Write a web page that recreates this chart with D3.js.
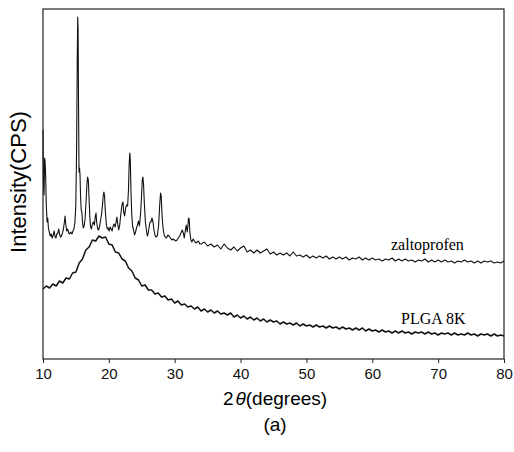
<!DOCTYPE html>
<html>
<head>
<meta charset="utf-8">
<script src="https://cdn.jsdelivr.net/npm/d3@7"></script>
<style>
  body { margin: 0; background: #fff; }
  .axis text { font-family: "Liberation Sans", Arial, sans-serif; font-size: 15px; fill: #111; }
  .axis line { stroke: #222; }
</style>
</head>
<body>
<div id="xrd"></div>
<script>
// tick labels for 2-theta
var xTicks = [10, 20, 30, 40, 50, 60, 70, 80];

// zaltoprofen, peak region [2theta, counts]
var zaltoPeaks = [
  [10.00, 2290], [10.08, 1740], [10.16, 1640], [10.25, 2010], [10.32, 1970], [10.40, 1840],
  [10.50, 1540], [10.62, 1370], [10.72, 1410], [10.82, 1310], [10.95, 1270], [11.10, 1230],
  [11.25, 1250], [11.40, 1210], [11.55, 1240], [11.70, 1280], [11.80, 1230], [11.95, 1210],
  [12.10, 1250], [12.25, 1260], [12.40, 1300], [12.50, 1250], [12.65, 1220], [12.80, 1230],
  [12.95, 1260], [13.10, 1300], [13.25, 1370], [13.35, 1430], [13.45, 1350], [13.60, 1280],
  [13.75, 1300], [13.90, 1260], [14.05, 1250], [14.20, 1270], [14.40, 1250], [14.55, 1280],
  [14.70, 1300], [14.85, 1370], [14.98, 1540], [15.10, 2090], [15.20, 2990], [15.27, 3420],
  [15.33, 3290], [15.40, 2490], [15.47, 1870], [15.55, 1910], [15.62, 1840], [15.70, 1640],
  [15.80, 1490], [15.90, 1470], [16.00, 1370], [16.10, 1310], [16.25, 1330], [16.40, 1410],
  [16.55, 1590], [16.68, 1760], [16.78, 1820], [16.88, 1790], [16.98, 1630], [17.10, 1440],
  [17.20, 1330], [17.35, 1300], [17.50, 1350], [17.65, 1370], [17.80, 1340], [17.95, 1430],
  [18.05, 1460], [18.15, 1370], [18.30, 1300], [18.45, 1290], [18.60, 1330], [18.75, 1390],
  [18.90, 1450], [19.05, 1550], [19.15, 1640], [19.25, 1670], [19.35, 1630], [19.45, 1490],
  [19.60, 1360], [19.75, 1300], [19.90, 1310], [20.05, 1280], [20.20, 1320], [20.35, 1300],
  [20.50, 1280], [20.65, 1330], [20.80, 1350], [20.95, 1320], [21.10, 1370], [21.22, 1420],
  [21.35, 1350], [21.50, 1290], [21.65, 1340], [21.80, 1440], [21.95, 1520], [22.05, 1560],
  [22.15, 1570], [22.25, 1470], [22.40, 1430], [22.55, 1510], [22.70, 1540], [22.85, 1530],
  [22.98, 1690], [23.08, 1940], [23.18, 2060], [23.26, 1990], [23.35, 1690], [23.48, 1440],
  [23.60, 1330], [23.75, 1290], [23.90, 1240], [24.05, 1270], [24.20, 1310], [24.35, 1340],
  [24.50, 1380], [24.65, 1330], [24.80, 1440], [24.95, 1610], [25.07, 1790], [25.17, 1820],
  [25.27, 1740], [25.40, 1540], [25.55, 1370], [25.70, 1290], [25.85, 1230], [25.95, 1250],
  [26.10, 1310], [26.25, 1370], [26.40, 1370], [26.55, 1410], [26.70, 1370], [26.85, 1290],
  [27.00, 1240], [27.15, 1220], [27.35, 1230], [27.55, 1330], [27.72, 1540], [27.85, 1660],
  [27.95, 1630], [28.10, 1410], [28.25, 1300], [28.40, 1240], [28.55, 1220], [28.75, 1210],
  [28.95, 1240], [29.15, 1230], [29.35, 1210], [29.55, 1190], [29.75, 1200], [29.95, 1190],
  [30.15, 1180], [30.35, 1190], [30.55, 1210], [30.75, 1230], [30.95, 1260], [31.15, 1290],
  [31.30, 1260], [31.45, 1210], [31.60, 1280], [31.75, 1340], [31.90, 1270], [32.00, 1330],
  [32.10, 1410], [32.20, 1400], [32.30, 1270], [32.45, 1190], [32.60, 1170], [32.80, 1200],
  [33.00, 1180], [33.20, 1160], [33.40, 1170], [33.60, 1180], [33.80, 1150]
];

// zaltoprofen tail, 34..80 every 0.5 deg
var zaltoTail = [
  1150, 1170, 1130, 1150, 1120, 1140, 1100, 1150, 1110, 1090,
  1120, 1080, 1110, 1130, 1070, 1090, 1060, 1090, 1060, 1080,
  1100, 1050, 1070, 1040, 1060, 1040, 1060, 1030, 1070, 1030,
  1040, 1020, 1040, 1010, 1030, 1010, 1030, 1010, 1030, 1000,
  1020, 1000, 1020, 1000, 1020, 990, 1010, 1000, 1020, 990,
  1010, 990, 1010, 990, 1000, 980, 1000, 990, 1010, 980,
  1000, 980, 1000, 980, 990, 970, 990, 980, 1000, 970,
  990, 970, 990, 970, 990, 970, 980, 960, 980, 970,
  990, 970, 980, 960, 980, 960, 980, 970, 980, 960,
  970, 960, 980
];

// PLGA 8K, 10..80 every 0.5 deg
var plga = [
  700, 730, 710, 750, 730, 780, 760, 810, 800, 860,
  870, 960, 1000, 1090, 1120, 1190, 1180, 1230, 1210, 1220,
  1150, 1140, 1070, 1060, 1000, 980, 910, 880, 810, 790,
  730, 740, 690, 690, 650, 660, 620, 630, 590, 600,
  560, 580, 540, 550, 520, 530, 500, 520, 480, 500,
  470, 490, 460, 480, 450, 460, 440, 460, 420, 440,
  410, 430, 400, 420, 390, 410, 380, 400, 370, 390,
  370, 380, 350, 370, 350, 360, 340, 360, 330, 350,
  330, 340, 320, 340, 320, 330, 310, 330, 310, 320,
  300, 320, 300, 310, 290, 310, 290, 310, 280, 300,
  280, 290, 270, 290, 270, 280, 260, 280, 260, 280,
  260, 270, 250, 270, 260, 270, 250, 270, 250, 260,
  240, 260, 250, 260, 240, 260, 240, 250, 240, 260,
  240, 250, 230, 250, 240, 250, 230, 250, 230, 240,
  230
];

var seriesLabels = ["zaltoprofen", "PLGA 8K"];

var width = 514, height = 452;
var margin = {top: 9, right: 10, bottom: 93, left: 43};

var svg = d3.select('#xrd').append('svg')
  .attr('width', width)
  .attr('height', height);

var x = d3.scaleLinear().domain([10, 80]).range([margin.left, width - margin.right]);
var y = d3.scaleLinear().domain([0, 3500]).range([height - margin.bottom, margin.top]);

var tailTheta = d3.range(34, 80.01, 0.5);
var plgaTheta = d3.range(10, 80.01, 0.5);

var zalto = zaltoPeaks.concat(zaltoTail.map(function(v, i) { return [tailTheta[i], v]; }));
var plgaPts = plga.map(function(v, i) { return [plgaTheta[i], v]; });

var line = d3.line()
  .x(function(d) { return x(d[0]); })
  .y(function(d) { return y(d[1]); });

svg.append('path')
  .datum(plgaPts)
  .attr('d', line)
  .attr('fill', 'none')
  .attr('stroke', '#111')
  .attr('stroke-width', 1.5)
  .attr('stroke-linejoin', 'round');

svg.append('path')
  .datum(zalto)
  .attr('d', line)
  .attr('fill', 'none')
  .attr('stroke', '#111')
  .attr('stroke-width', 1.1)
  .attr('stroke-linejoin', 'round');

// frame
svg.append('rect')
  .attr('x', x(10))
  .attr('y', y(3500))
  .attr('width', x(80) - x(10))
  .attr('height', y(0) - y(3500))
  .attr('fill', 'none')
  .attr('stroke', '#222')
  .attr('stroke-width', 1.2);

svg.append('g')
  .attr('class', 'axis')
  .attr('transform', 'translate(0,' + y(0) + ')')
  .call(d3.axisBottom(x).tickValues(xTicks).tickSize(4).tickSizeOuter(0).tickPadding(5).tickFormat(d3.format('d')))
  .call(function(g) { g.select('.domain').remove(); });

// series labels
svg.append('text')
  .attr('x', 391).attr('y', 250)
  .style('font-family', '"Liberation Serif", "Times New Roman", serif')
  .style('font-size', '16px')
  .text(seriesLabels[0]);

svg.append('text')
  .attr('x', 401).attr('y', 324)
  .style('font-family', '"Liberation Serif", "Times New Roman", serif')
  .style('font-size', '16px')
  .text(seriesLabels[1]);

// axis titles
var xt = svg.append('text')
  .attr('x', 275).attr('y', 405)
  .attr('text-anchor', 'middle')
  .style('font-family', '"Liberation Sans", Arial, sans-serif')
  .style('font-size', '19px');
xt.append('tspan').text('2');
xt.append('tspan').style('font-style', 'italic').attr('dx', 2).text('θ');
xt.append('tspan').text('(degrees)');

svg.append('text')
  .attr('x', 275).attr('y', 431)
  .attr('text-anchor', 'middle')
  .style('font-family', '"Liberation Sans", Arial, sans-serif')
  .style('font-size', '19px')
  .text('(a)');

svg.append('text')
  .attr('transform', 'translate(26,182) rotate(-90)')
  .attr('text-anchor', 'middle')
  .style('font-family', '"Liberation Sans", Arial, sans-serif')
  .style('font-size', '22px')
  .text('Intensity(CPS)');
</script>
</body>
</html>
